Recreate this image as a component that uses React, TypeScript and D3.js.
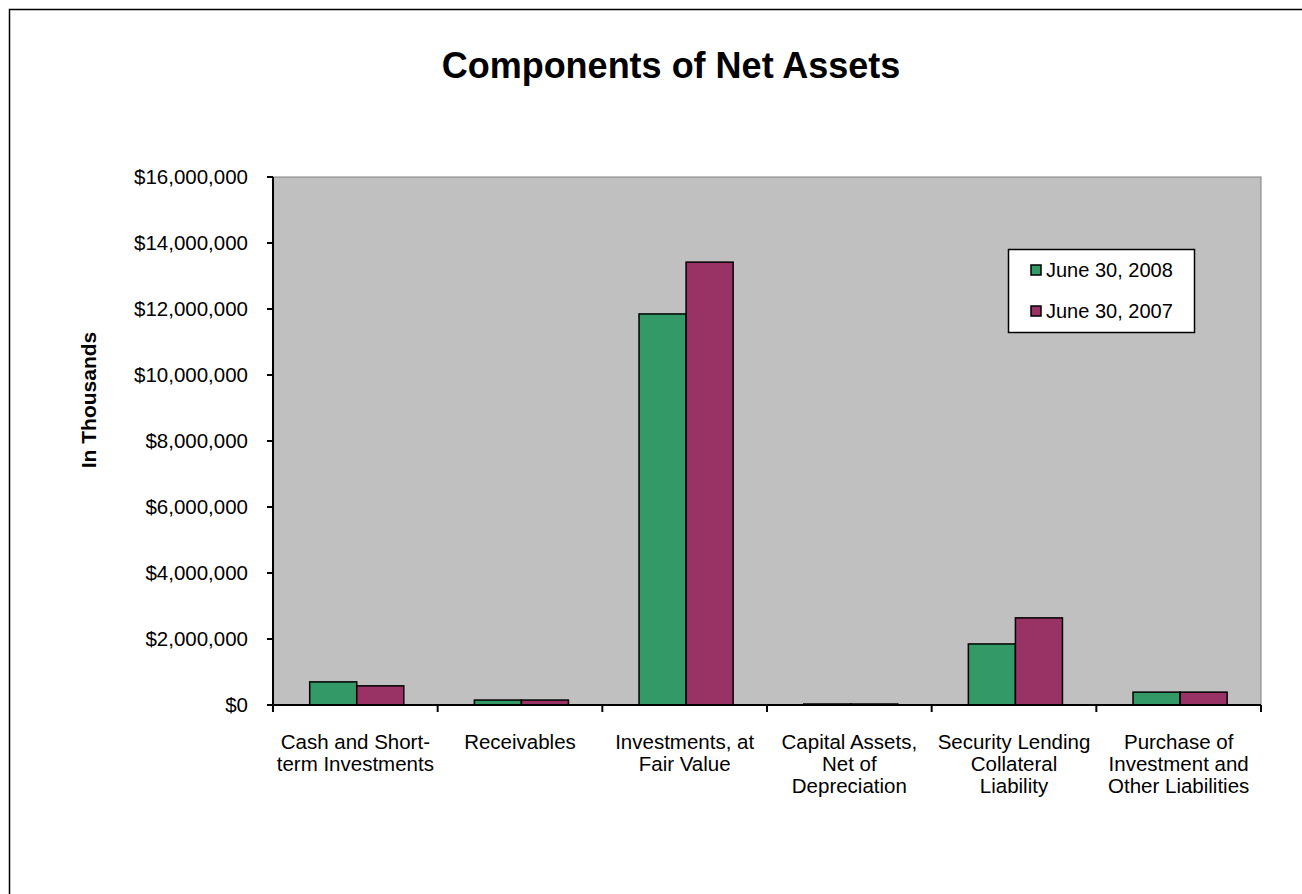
import React from "react";
import * as d3 from "d3";

const categories: string[][] = [
  ["Cash and Short-", "term Investments"],
  ["Receivables"],
  ["Investments, at", "Fair Value"],
  ["Capital Assets,", "Net of", "Depreciation"],
  ["Security Lending", "Collateral", "Liability"],
  ["Purchase of", "Investment and", "Other Liabilities"],
];
const seriesNames = ["June 30, 2008", "June 30, 2007"];
const values2008 = [700000, 150000, 11850000, 30000, 1850000, 390000];
const values2007 = [580000, 150000, 13420000, 30000, 2640000, 390000];
const yTicks = [0, 2000000, 4000000, 6000000, 8000000, 10000000, 12000000, 14000000, 16000000];
const colors = ["#339966", "#993366"];

export default function App() {
  const W = 1302, H = 894;
  const left = 273, right = 1261, top = 177, bottom = 705;
  const font = "'Liberation Sans', Arial, sans-serif";
  const x0 = d3.scaleBand<number>().domain(d3.range(categories.length)).range([left, right]).paddingInner(0).paddingOuter(0);
  const y = d3.scaleLinear().domain([0, 16000000]).range([bottom, top]);
  const bw = x0.bandwidth() / 3.5;
  const fmt = (v: number) => "$" + d3.format(",")(v);
  const series = [values2008, values2007];
  return (
    <svg width={W} height={H} style={{ position: "absolute", left: 0, top: 0 }}>
      <rect x={0} y={0} width={W} height={H} fill="#fff" />
      <rect x={9.5} y={9.5} width={1310} height={910} fill="none" stroke="#000" strokeWidth={1.5} />
      <text x={671} y={78} textAnchor="middle" fontFamily={font} fontWeight="bold" fontSize={36}>Components of Net Assets</text>
      <rect x={left} y={top} width={right - left} height={bottom - top} fill="#c0c0c0" stroke="#808080" strokeWidth={1} />
      {series.map((vals, si) =>
        vals.map((v, i) => {
          const x = (x0(i) as number) + bw * 0.78 + si * bw;
          return (
            <rect key={si + "-" + i} x={x} y={y(v)} width={bw} height={bottom - y(v)}
              fill={colors[si]} stroke="#000" strokeWidth={1.5} />
          );
        })
      )}
      <line x1={left} x2={left} y1={top} y2={bottom} stroke="#000" strokeWidth={2} />
      <line x1={left - 6} x2={right} y1={bottom} y2={bottom} stroke="#000" strokeWidth={2} />
      {yTicks.map((t) => (
        <g key={t}>
          <line x1={left - 6} x2={left} y1={y(t)} y2={y(t)} stroke="#000" strokeWidth={2} />
          <text x={left - 25} y={y(t) + 7} textAnchor="end" fontFamily={font} fontSize={20.5}>{fmt(t)}</text>
        </g>
      ))}
      {d3.range(categories.length + 1).map((i) => {
        const xx = left + i * x0.bandwidth();
        return <line key={i} x1={xx} x2={xx} y1={bottom} y2={bottom + 7} stroke="#000" strokeWidth={2} />;
      })}
      {categories.map((lines, i) => (
        <text key={i} textAnchor="middle" fontFamily={font} fontSize={20.5}>
          {lines.map((l, j) => (
            <tspan key={j} x={(x0(i) as number) + x0.bandwidth() / 2} y={749 + j * 22}>{l}</tspan>
          ))}
        </text>
      ))}
      <text transform={`translate(96,400) rotate(-90)`} textAnchor="middle" fontFamily={font} fontWeight="bold" fontSize={21}>In Thousands</text>
      <rect x={1008.5} y={249.5} width={186} height={83} fill="#fff" stroke="#000" strokeWidth={1.5} />
      {seriesNames.map((n, i) => (
        <g key={n}>
          <rect x={1031} y={265 + i * 41} width={10} height={10} fill={colors[i]} stroke="#000" strokeWidth={1.5} />
          <text x={1046} y={277 + i * 41} fontFamily={font} fontSize={20}>{n}</text>
        </g>
      ))}
    </svg>
  );
}
